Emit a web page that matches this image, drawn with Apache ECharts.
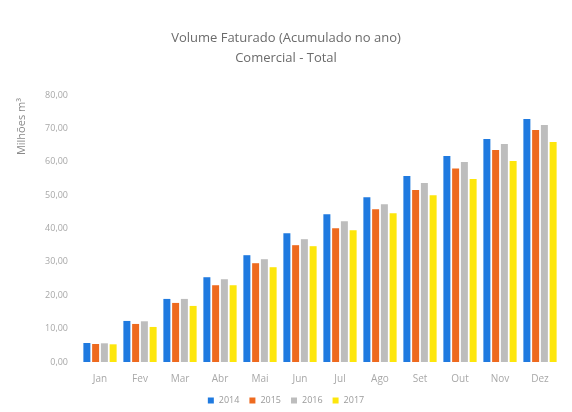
<!DOCTYPE html>
<html>
<head>
<meta charset="utf-8">
<script src="https://cdn.jsdelivr.net/npm/echarts@6/dist/echarts.min.js"></script>
<style>
html,body{margin:0;padding:0;background:#fff;}
#c{width:572px;height:412px;}
</style>
</head>
<body>
<div id="c"></div>
<script>
const categories = ['Jan','Fev','Mar','Abr','Mai','Jun','Jul','Ago','Set','Out','Nov','Dez'];
const seriesNames = ['2014','2015','2016','2017'];
const v2014 = [5.7, 12.3, 18.9, 25.4, 32.0, 38.6, 44.3, 49.4, 55.7, 61.7, 66.8, 72.8];
const v2015 = [5.4, 11.4, 17.7, 23.0, 29.6, 35.0, 40.1, 45.8, 51.5, 58.0, 63.5, 69.5];
const v2016 = [5.6, 12.2, 18.9, 24.8, 30.8, 36.8, 42.2, 47.3, 53.6, 59.9, 65.3, 71.0];
const v2017 = [5.3, 10.5, 16.8, 23.0, 28.4, 34.7, 39.5, 44.6, 50.0, 54.8, 60.2, 65.9];
const colors = ['#1f7ae0', '#ee6a1f', '#bdbdbd', '#fde60c'];
const yTicks = {min: 0, max: 80, interval: 10};

const allValues = [v2014, v2015, v2016, v2017];
const chart = echarts.init(document.getElementById('c'));
const font = '"Open Sans", "Liberation Sans", sans-serif';
chart.setOption({
  animation: false,
  backgroundColor: '#fff',
  title: {
    text: 'Volume Faturado (Acumulado no ano)\nComercial - Total',
    left: 'center',
    top: 23,
    textStyle: {fontFamily: font, fontSize: 13, fontWeight: 'normal', color: '#6b6b6b', lineHeight: 20}
  },
  legend: {
    bottom: 2,
    left: 'center',
    itemWidth: 6,
    itemHeight: 6,
    itemGap: 10,
    icon: 'rect',
    textStyle: {fontFamily: font, fontSize: 9, color: '#9a9a9a'},
    data: seriesNames
  },
  graphic: [{
    type: 'text',
    left: 16,
    top: 98,
    rotation: Math.PI / 2,
    style: {text: 'Milhões m³', fontFamily: font, fontSize: 11, fill: '#8a8a8a'}
  }],
  grid: {left: 80, right: 12, top: 95, bottom: 50, containLabel: false},
  xAxis: {
    type: 'category',
    data: categories,
    axisLine: {show: false},
    axisTick: {show: false},
    axisLabel: {fontFamily: font, fontSize: 10, color: '#a8a8a8', margin: 12}
  },
  yAxis: {
    type: 'value',
    min: yTicks.min,
    max: yTicks.max,
    interval: yTicks.interval,
    splitLine: {show: false},
    axisLine: {show: false},
    axisTick: {show: false},
    axisLabel: {
      fontFamily: font, fontSize: 9, color: '#a8a8a8', margin: 12,
      formatter: v => v.toFixed(2).replace('.', ',')
    }
  },
  series: seriesNames.map((n, i) => ({
    name: n,
    type: 'bar',
    data: allValues[i],
    barWidth: 7,
    barGap: '25%',
    itemStyle: {color: colors[i]}
  }))
});
</script>
</body>
</html>
